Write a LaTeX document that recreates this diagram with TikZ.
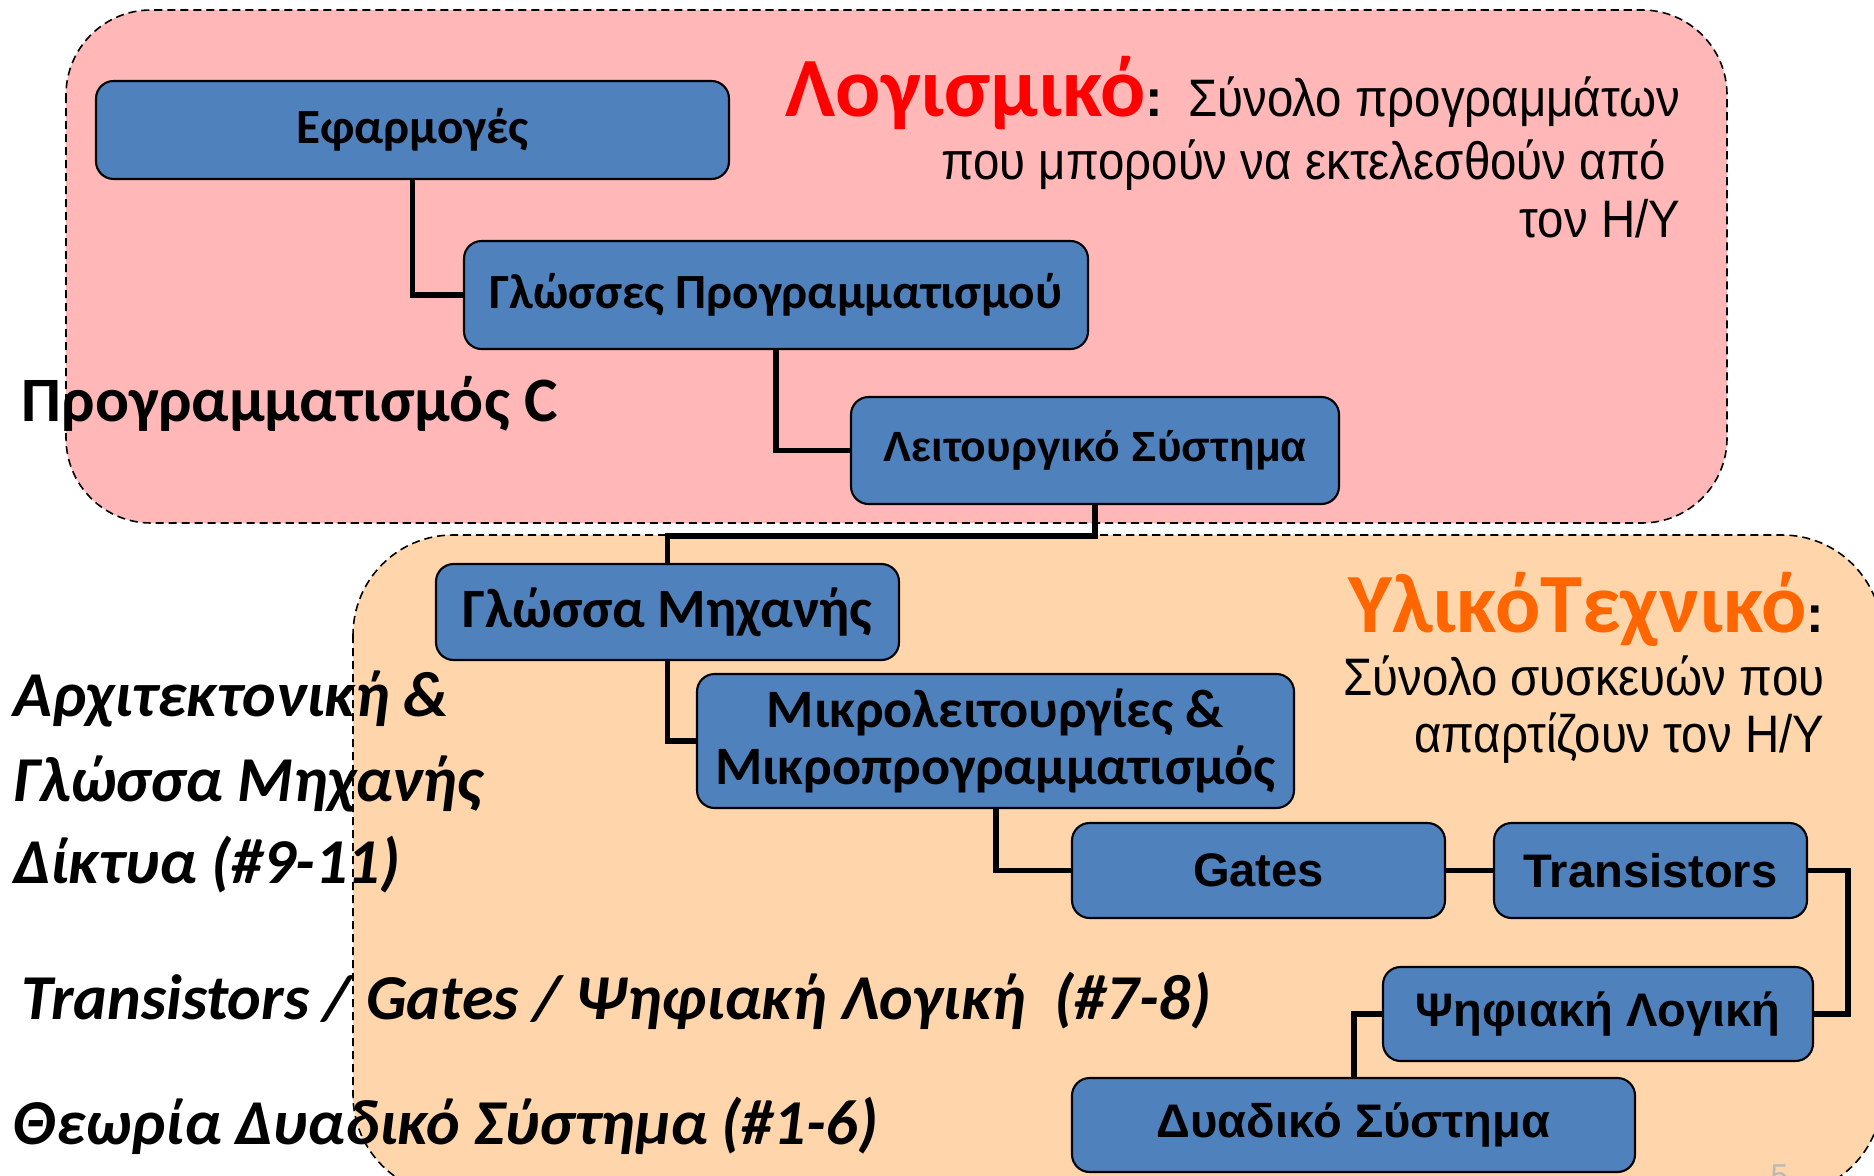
\documentclass[tikz,border=0pt]{standalone}
\usepackage{fontspec}
\setmainfont{Carlito}
\newfontfamily\arialfont{Liberation Sans}
\newfontfamily\arialnarrow[FakeStretch=0.9]{Liberation Sans}
\definecolor{pinkbg}{RGB}{255,183,183}
\definecolor{orangebg}{RGB}{255,213,172}
\definecolor{boxblue}{RGB}{79,129,189}
\definecolor{hwtitle}{RGB}{255,102,0}
\begin{document}
\begin{tikzpicture}[
	blok/.style={draw=black,line width=0.6pt,fill=boxblue,rounded corners=5pt,inner sep=0pt,font=\bfseries\fontsize{14}{16}\selectfont},
	arialblok/.style={blok,font=\arialfont\bfseries\fontsize{13.4}{15}\selectfont},
	lijn/.style={line width=1.7pt,line join=miter},
	perioxi/.style={dash pattern=on 2.3pt off 1.4pt,line width=0.45pt},
	mathima/.style={anchor=base west,inner sep=0pt,font=\bfseries\itshape\fontsize{18.2}{21}\selectfont},
	titlos/.style={anchor=base east,inner sep=0pt,font=\arialnarrow\fontsize{15}{17}\selectfont}]
	\useasboundingbox (0,0) rectangle (18.74,-11.75);
	% the two regions (fill first, border later)
	\fill[pinkbg,rounded corners=0.85cm] (0.66,-0.10) rectangle (17.27,-5.23);
	\fill[orangebg,rounded corners=1cm] (3.53,-5.35) rectangle (18.82,-11.95);
	% course parts on the left
	\node[anchor=base west,inner sep=0pt,font=\bfseries\fontsize{18}{21}\selectfont] (progc) at (0.21,-4.21) {Προγραμματισμός C};
	\node[mathima] (arx) at (0.13,-7.16) {Αρχιτεκτονική \&};
	\node[mathima] (glm) at (0.13,-8.01) {Γλώσσα Μηχανής};
	\node[mathima] (dik) at (0.13,-8.83) {Δίκτυα (\#9-11)};
	\node[mathima] (trg) at (0.21,-10.19) {Transistors / Gates / Ψηφιακή Λογική\ \ (\#7-8)};
	\node[mathima] (the) at (0.13,-11.44) {Θεωρία Δυαδικό Σύστημα (\#1-6)};
	\draw[perioxi,rounded corners=0.85cm] (0.66,-0.10) rectangle (17.27,-5.23);
	\draw[perioxi,rounded corners=1cm] (3.53,-5.35) rectangle (18.82,-11.95);
	% titles
	\node[titlos] (sw1) at (16.81,-1.17) {{\rmfamily\bfseries\fontsize{24}{28}\selectfont\color{red}Λογισμικό}{\arialfont\bfseries\fontsize{15}{17}\selectfont:}\hspace{7pt}Σύνολο προγραμμάτων};
	\node[titlos] (sw2) at (16.67,-1.79) {που μπορούν να εκτελεσθούν από};
	\node[titlos] (sw3) at (16.81,-2.375) {τον Η/Υ};
	\node[titlos] (hw1) at (18.25,-6.32) {{\rmfamily\bfseries\fontsize{24}{28}\selectfont\color{hwtitle}ΥλικόΤεχνικό}{\arialfont\bfseries\fontsize{15}{17}\selectfont:}};
	\node[titlos] (hw2) at (18.25,-6.95) {Σύνολο συσκευών που};
	\node[titlos] (hw3) at (18.25,-7.52) {απαρτίζουν τον Η/Υ};
	% layers
	\node[blok,minimum width=6.33cm,minimum height=0.98cm] (efa) at (4.125,-1.30) {Εφαρμογές};
	\node[blok,minimum width=6.24cm,minimum height=1.08cm] (glp) at (7.76,-2.95) {Γλώσσες Προγραμματισμού};
	\node[arialblok,minimum width=4.88cm,minimum height=1.07cm,font=\arialfont\bfseries\fontsize{12}{14}\selectfont] (lei) at (10.95,-4.505) {Λειτουργικό Σύστημα};
	\node[blok,minimum width=4.63cm,minimum height=0.96cm,font=\bfseries\fontsize{15.8}{18}\selectfont] (glw) at (6.675,-6.12) {Γλώσσα Μηχανής};
	\node[blok,minimum width=5.97cm,minimum height=1.34cm,align=center,font=\bfseries\fontsize{15.4}{16}\selectfont] (mik) at (9.955,-7.41) {Μικρολειτουργίες \&\\Μικροπρογραμματισμός};
	\node[arialblok,minimum width=3.73cm,minimum height=0.95cm] (gat) at (12.585,-8.705) {Gates};
	\node[arialblok,minimum width=3.13cm,minimum height=0.95cm] (tra) at (16.505,-8.705) {Transistors};
	\node[arialblok,minimum width=4.30cm,minimum height=0.94cm] (psi) at (15.98,-10.14) {Ψηφιακή Λογική};
	\node[arialblok,minimum width=5.63cm,minimum height=0.94cm] (dya) at (13.535,-11.25) {Δυαδικό Σύστημα};
	% connectors
	\draw[lijn] (efa.south) |- (glp.west);
	\draw[lijn] (glp.south) |- (lei.west);
	\draw[lijn] (lei.south) -- ++(0,-0.31) -| (glw.north);
	\draw[lijn] (glw.south) |- (mik.west);
	\draw[lijn] (mik.south) |- (gat.west);
	\draw[lijn] (gat.east) -- (tra.east -| tra.west);
	\draw[lijn] (tra.east) -- ++(0.40,0) |- (psi.east);
	\draw[lijn] (dya.north) |- (psi.west);
	\node[anchor=base west,inner sep=0pt,text=gray!55,font=\arialfont\fontsize{9}{10}\selectfont] (num) at (17.70,-11.86) {5};
\end{tikzpicture}
\end{document}
